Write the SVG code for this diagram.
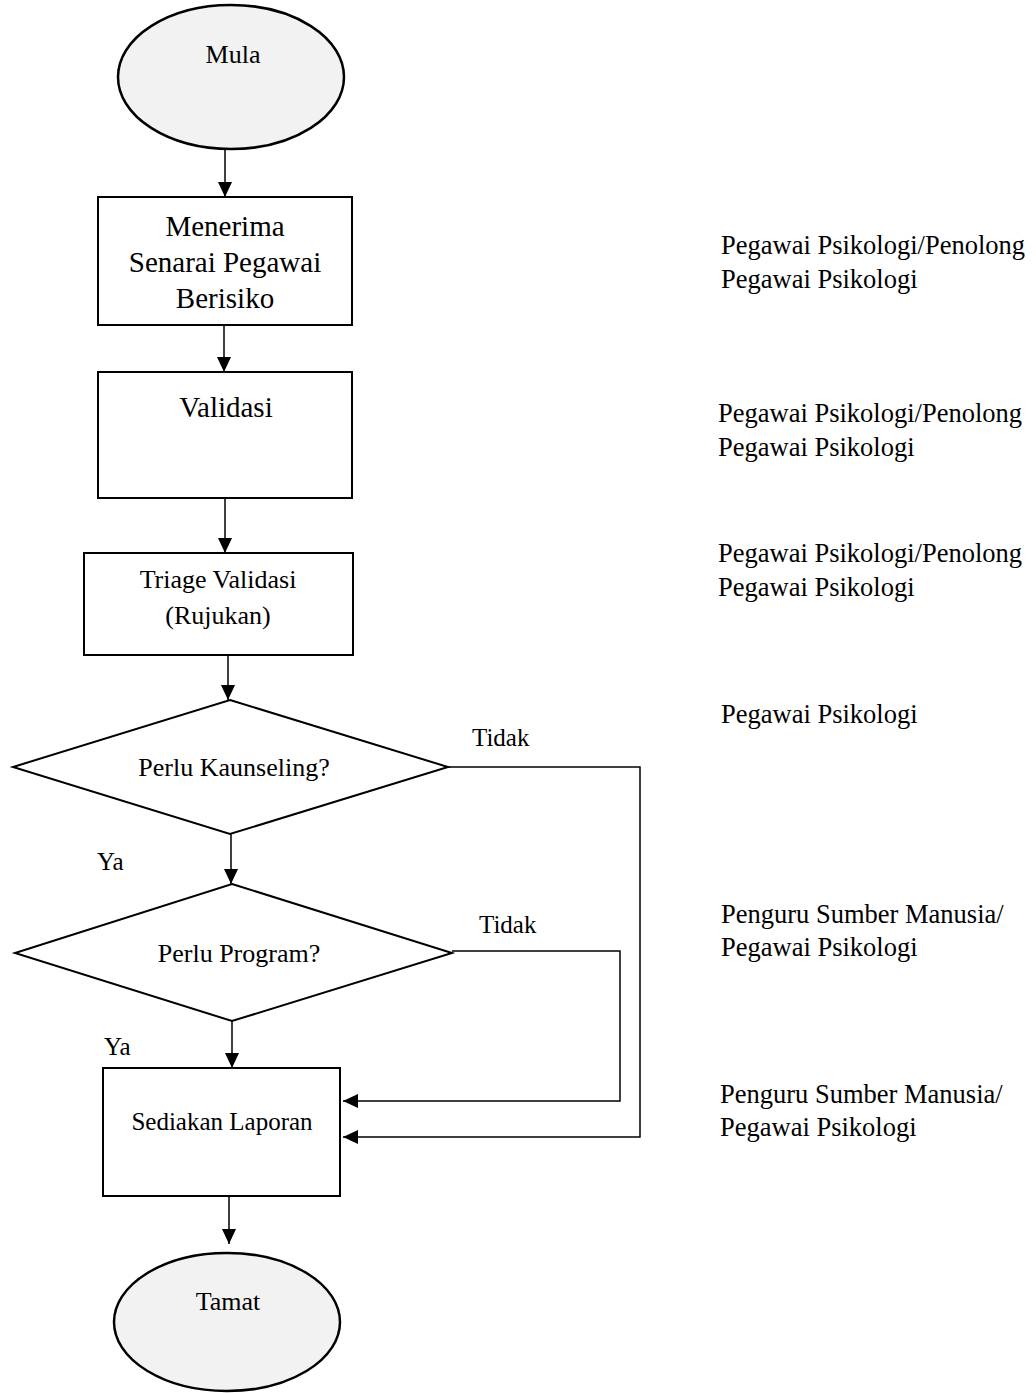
<svg xmlns="http://www.w3.org/2000/svg" width="1036" height="1393" viewBox="0 0 1036 1393">
  <style>
    text { font-family: "Liberation Serif", "Times New Roman", serif; fill: #000; }
    .shape { fill: #fff; stroke: #000; stroke-width: 2; }
    .term { fill: #f2f2f2; stroke: #000; stroke-width: 2.5; }
    .conn { fill: none; stroke: #000; stroke-width: 1.5; }
    .lbl { font-size: 26px; text-anchor: middle; }
    .big { font-size: 29px; text-anchor: middle; }
    .side { font-size: 26.5px; }
    .yn { font-size: 25px; }
  </style>
  <defs>
    <marker id="arrow" markerUnits="userSpaceOnUse" markerWidth="16" markerHeight="14" refX="15" refY="7" orient="auto">
      <path d="M0,0 L15,7 L0,14 Z" fill="#000"/>
    </marker>
  </defs>

  <rect width="1036" height="1393" fill="#fff"/>

  <!-- connectors -->
  <g id="connectors">
    <line class="conn" x1="225" y1="149" x2="225" y2="197" marker-end="url(#arrow)"/>
    <line class="conn" x1="224" y1="325" x2="224" y2="372" marker-end="url(#arrow)"/>
    <line class="conn" x1="225" y1="498" x2="225" y2="553" marker-end="url(#arrow)"/>
    <line class="conn" x1="228" y1="655" x2="228" y2="700" marker-end="url(#arrow)"/>
    <line class="conn" x1="231" y1="834" x2="231" y2="884" marker-end="url(#arrow)"/>
    <line class="conn" x1="232" y1="1021" x2="232" y2="1068" marker-end="url(#arrow)"/>
    <line class="conn" x1="229" y1="1196" x2="229" y2="1244" marker-end="url(#arrow)"/>
    <polyline class="conn" points="448,767 640,767 640,1137 343,1137" marker-end="url(#arrow)"/>
    <polyline class="conn" points="452,951 620,951 620,1101 343,1101" marker-end="url(#arrow)"/>
    <text class="yn" x="472" y="746">Tidak</text>
    <text class="yn" x="479" y="933">Tidak</text>
    <text class="yn" x="97" y="870">Ya</text>
    <text class="yn" x="104" y="1055">Ya</text>
  </g>

  <g id="start">
    <ellipse class="term" cx="231" cy="77" rx="113" ry="72"/>
    <text class="lbl" x="233" y="63">Mula</text>
  </g>

  <g id="receive-list">
    <rect class="shape" x="98" y="197" width="254" height="128"/>
    <text class="big" x="225" y="236">Menerima</text>
    <text class="big" x="225" y="272">Senarai Pegawai</text>
    <text class="big" x="225" y="308">Berisiko</text>
  </g>

  <g id="validation">
    <rect class="shape" x="98" y="372" width="254" height="126"/>
    <text class="big" x="226" y="417">Validasi</text>
  </g>

  <g id="triage">
    <rect class="shape" x="84" y="553" width="269" height="102" stroke-width="3"/>
    <text class="lbl" x="218" y="588">Triage Validasi</text>
    <text class="lbl" x="218" y="624">(Rujukan)</text>
  </g>

  <g id="need-counseling">
    <polygon class="shape" points="230,700 448,767 230,834 13,767"/>
    <text class="lbl" x="234" y="776">Perlu Kaunseling?</text>
  </g>

  <g id="need-program">
    <polygon class="shape" points="232,884 452,953 232,1021 15,953"/>
    <text class="lbl" x="239" y="962">Perlu Program?</text>
  </g>

  <g id="report">
    <rect class="shape" x="103" y="1068" width="237" height="128"/>
    <text class="lbl" x="222" y="1130" style="font-size:25px">Sediakan Laporan</text>
  </g>

  <g id="end">
    <ellipse class="term" cx="227" cy="1322" rx="113" ry="69"/>
    <text class="lbl" x="228" y="1310">Tamat</text>
  </g>

  <!-- responsible officers -->
  <g id="roles">
    <text class="side" x="721" y="254">Pegawai Psikologi/Penolong</text>
    <text class="side" x="721" y="288">Pegawai Psikologi</text>
    <text class="side" x="718" y="422">Pegawai Psikologi/Penolong</text>
    <text class="side" x="718" y="456">Pegawai Psikologi</text>
    <text class="side" x="718" y="562">Pegawai Psikologi/Penolong</text>
    <text class="side" x="718" y="596">Pegawai Psikologi</text>
    <text class="side" x="721" y="723">Pegawai Psikologi</text>
    <text class="side" x="721" y="923">Penguru Sumber Manusia/</text>
    <text class="side" x="721" y="956">Pegawai Psikologi</text>
    <text class="side" x="720" y="1103">Penguru Sumber Manusia/</text>
    <text class="side" x="720" y="1136">Pegawai Psikologi</text>
  </g>
</svg>
